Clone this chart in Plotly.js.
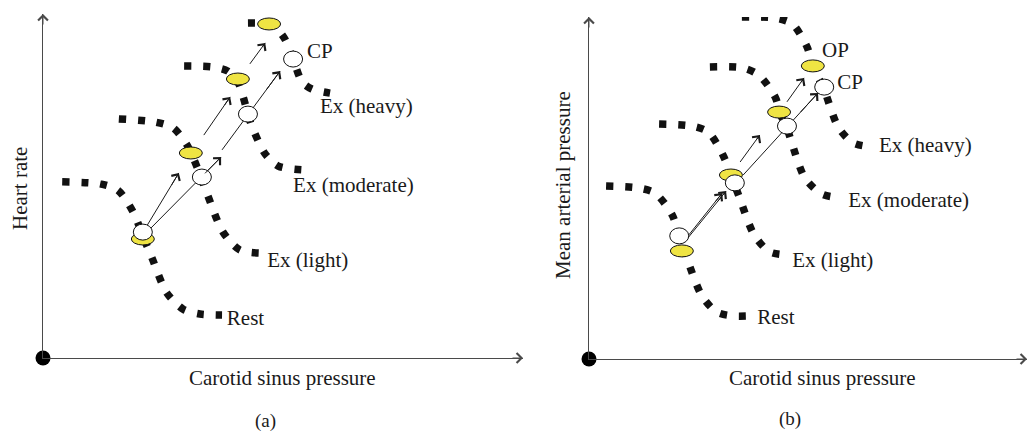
<!DOCTYPE html>
<html>
<head>
<meta charset="utf-8">
<script src="https://cdn.plot.ly/plotly-3.0.1.min.js"></script>
<style>html,body{margin:0;padding:0;background:#fff;}#chart{width:1027px;height:432px;}</style>
</head>
<body>
<div id="chart"></div>
<script>
// ---------- Panel (a): heart rate vs carotid sinus pressure (schematic units 0-100) ----------
const a_rest_x  = [4.0, 11.9, 15.6, 18.8, 20.8, 22.7, 25.8, 29.2, 32.7, 37.3];
const a_rest_y  = [51.2, 50.6, 48.8, 42.4, 35.5, 29.1, 18.9, 14.2, 12.8, 12.5];
const a_light_x = [15.8, 23.3, 27.1, 30.0, 32.1, 34.2, 37.5, 41.0, 45.6];
const a_light_y = [69.5, 68.6, 66.9, 61.9, 55.5, 47.7, 36.6, 31.4, 30.5];
const a_mod_x   = [29.4, 35.4, 38.5, 40.6, 41.7, 42.7, 43.5, 46.3, 49.0, 54.2];
const a_mod_y   = [84.9, 84.6, 83.4, 80.2, 75.9, 70.9, 67.4, 59.3, 55.8, 54.7];
const a_heavy_x = [42.7, 46.9, 48.8, 50.4, 52.1, 54.0, 56.0, 59.8];
const a_heavy_y = [97.4, 97.1, 95.6, 92.7, 86.9, 80.2, 78.2, 77.0];

const a_op_x = [20.8, 30.8, 40.6, 47.1];
const a_op_y = [34.6, 59.6, 81.1, 97.1];
const a_cp_x = [20.8, 33.1, 42.7, 52.1];
const a_cp_y = [36.6, 52.6, 70.9, 86.9];

const a_oparrow_x0 = [21.5, 33.5, 43.1];
const a_oparrow_y0 = [38.1, 64.8, 85.5];
const a_oparrow_x1 = [28.3, 39.0, 46.3];
const a_oparrow_y1 = [53.8, 75.9, 91.6];
const a_cparrow_x0 = [22.5, 37.3];
const a_cparrow_y0 = [37.8, 60.5];
const a_cparrow_x1 = [37.1, 49.4];
const a_cparrow_y1 = [58.4, 83.4];

const a_label_text = ['Rest', 'Ex (light)', 'Ex (moderate)', 'Ex (heavy)', 'CP'];
const a_label_x    = [38.3, 46.7, 52.1, 57.7, 55.0];
const a_label_y    = [11.1, 27.9, 49.7, 72.7, 88.7];

// ---------- Panel (b): mean arterial pressure vs carotid sinus pressure ----------
const b_rest_x  = [3.9, 11.4, 15.1, 19.0, 20.8, 22.4, 25.8, 29.2, 32.9, 36.8];
const b_rest_y  = [50.6, 50.0, 48.5, 42.1, 34.8, 29.2, 18.4, 13.7, 12.6, 12.6];
const b_light_x = [16.0, 23.5, 27.2, 30.6, 32.4, 34.3, 37.7, 41.3, 45.9];
const b_light_y = [68.7, 68.1, 66.4, 59.6, 53.8, 47.4, 36.3, 31.3, 30.4];
const b_mod_x   = [27.6, 35.2, 38.8, 42.5, 43.8, 45.2, 46.1, 49.3, 53.2, 57.5];
const b_mod_y   = [85.4, 85.1, 83.0, 76.6, 71.3, 67.5, 64.0, 52.9, 48.2, 47.1];
const b_heavy_x = [34.9, 42.5, 46.4, 49.8, 51.1, 53.7, 56.9, 60.3, 64.6];
const b_heavy_y = [100, 99.7, 98.0, 91.2, 85.7, 78.7, 67.8, 63.2, 62.0];

const b_op_x = [21.2, 32.4, 43.4, 51.1];
const b_op_y = [31.6, 53.8, 72.2, 85.7];
const b_cp_x = [20.6, 33.3, 45.2, 53.7];
const b_cp_y = [36.0, 51.5, 68.1, 79.5];

const b_oparrow_x0 = [22.8, 34.5, 45.2];
const b_oparrow_y0 = [36.3, 57.6, 75.2];
const b_oparrow_x1 = [30.4, 39.0, 49.1];
const b_oparrow_y1 = [48.5, 65.5, 82.2];
const b_cparrow_x0 = [22.2, 35.2];
const b_cparrow_y0 = [34.8, 53.8];
const b_cparrow_x1 = [31.3, 52.3];
const b_cparrow_y1 = [49.1, 77.8];

const b_label_text = ['Rest', 'Ex (light)', 'Ex (moderate)', 'Ex (heavy)', 'OP', 'CP'];
const b_label_x    = [38.4, 46.4, 59.2, 66.2, 53.2, 56.7];
const b_label_y    = [11.7, 28.4, 45.9, 62.0, 89.8, 80.4];

// ---------- styles ----------
const FONT = 'Liberation Serif, Times New Roman, serif';
const INK = '#1a1a1a';
const AXIS = '#4a4a4a';
const YELLOW = '#efe443';
const LABEL_SIZE = 21;

function curve(x, y, xa, ya) {
  return {x: x, y: y, xaxis: xa, yaxis: ya, mode: 'lines', type: 'scatter',
    line: {color: '#111', width: 7.5, dash: '7px,12px', shape: 'spline', smoothing: 0.8},
    cliponaxis: false, hoverinfo: 'skip', showlegend: false};
}
function shafts(x0, y0, x1, y1, xa, ya) {
  const xs = [], ys = [];
  for (let i = 0; i < x0.length; i++) { xs.push(x0[i], x1[i], null); ys.push(y0[i], y1[i], null); }
  return {x: xs, y: ys, xaxis: xa, yaxis: ya, mode: 'lines', type: 'scatter',
    line: {color: INK, width: 1}, hoverinfo: 'skip', showlegend: false, cliponaxis: false};
}
function heads(x0, y0, x1, y1, xa, ya) {
  const out = [];
  for (let i = 0; i < x0.length; i++) {
    out.push({x: x1[i], y: y1[i], xref: xa, yref: ya, axref: xa, ayref: ya,
      ax: x1[i] - 0.25 * (x1[i] - x0[i]), ay: y1[i] - 0.25 * (y1[i] - y0[i]),
      text: '', showarrow: true, arrowhead: 4, arrowsize: 1.9, arrowwidth: 1, arrowcolor: INK});
  }
  return out;
}
function labels(t, x, y, xa, ya) {
  return {x: x, y: y, text: t, xaxis: xa, yaxis: ya, mode: 'text', type: 'scatter',
    textposition: 'middle right', textfont: {family: FONT, size: LABEL_SIZE, color: INK},
    hoverinfo: 'skip', showlegend: false, cliponaxis: false};
}
function origin(xa, ya) {
  return {x: [0], y: [0], xaxis: xa, yaxis: ya, mode: 'markers', type: 'scatter',
    marker: {color: '#000', size: 15}, hoverinfo: 'skip', showlegend: false, cliponaxis: false};
}
function ellipses(cx, cy, rx, ry, fill, xa, ya) {
  return cx.map((c, i) => ({type: 'circle', xref: xa, yref: ya, xsizemode: 'pixel', ysizemode: 'pixel',
    xanchor: c, yanchor: cy[i], x0: -rx, x1: rx, y0: -ry, y1: ry,
    fillcolor: fill, line: {color: '#111', width: 1}, layer: 'above'}));
}

const data = [
  curve(a_rest_x, a_rest_y, 'x', 'y'), curve(a_light_x, a_light_y, 'x', 'y'),
  curve(a_mod_x, a_mod_y, 'x', 'y'), curve(a_heavy_x, a_heavy_y, 'x', 'y'),
  shafts(a_oparrow_x0, a_oparrow_y0, a_oparrow_x1, a_oparrow_y1, 'x', 'y'),
  shafts(a_cparrow_x0, a_cparrow_y0, a_cparrow_x1, a_cparrow_y1, 'x', 'y'),
  labels(a_label_text, a_label_x, a_label_y, 'x', 'y'),
  origin('x', 'y'),
  curve(b_rest_x, b_rest_y, 'x2', 'y2'), curve(b_light_x, b_light_y, 'x2', 'y2'),
  curve(b_mod_x, b_mod_y, 'x2', 'y2'), curve(b_heavy_x, b_heavy_y, 'x2', 'y2'),
  shafts(b_oparrow_x0, b_oparrow_y0, b_oparrow_x1, b_oparrow_y1, 'x2', 'y2'),
  shafts(b_cparrow_x0, b_cparrow_y0, b_cparrow_x1, b_cparrow_y1, 'x2', 'y2'),
  labels(b_label_text, b_label_x, b_label_y, 'x2', 'y2'),
  origin('x2', 'y2')
];

const shapes = [].concat(
  ellipses(a_op_x, a_op_y, 11.5, 6, YELLOW, 'x', 'y'),
  ellipses(a_cp_x, a_cp_y, 9.5, 8, '#ffffff', 'x', 'y'),
  ellipses(b_op_x, b_op_y, 11.5, 6, YELLOW, 'x2', 'y2'),
  ellipses(b_cp_x, b_cp_y, 9.5, 8, '#ffffff', 'x2', 'y2')
);

const W = 1027, H = 432;
function paperText(text, px, py, size, angle) {
  return {text: text, xref: 'paper', yref: 'paper', x: px / W, y: 1 - py / H,
    xanchor: 'center', yanchor: 'middle', showarrow: false, textangle: angle || 0,
    font: {family: FONT, size: size, color: INK}};
}
function axisHead(xa, ya, x, y, dx, dy) {
  return {x: x, y: y, xref: xa, yref: ya, ax: dx, ay: dy, text: '', showarrow: true,
    arrowhead: 4, arrowsize: 1.9, arrowwidth: 1, arrowcolor: AXIS};
}

const annotations = [].concat(
  heads(a_oparrow_x0, a_oparrow_y0, a_oparrow_x1, a_oparrow_y1, 'x', 'y'),
  heads(a_cparrow_x0, a_cparrow_y0, a_cparrow_x1, a_cparrow_y1, 'x', 'y'),
  heads(b_oparrow_x0, b_oparrow_y0, b_oparrow_x1, b_oparrow_y1, 'x2', 'y2'),
  heads(b_cparrow_x0, b_cparrow_y0, b_cparrow_x1, b_cparrow_y1, 'x2', 'y2'),
  [
    axisHead('x', 'y', 100, 0, -12, 0), axisHead('x', 'y', 0, 100, 0, 12),
    axisHead('x2', 'y2', 100, 0, -12, 0), axisHead('x2', 'y2', 0, 100, 0, 12),
    paperText('Carotid sinus pressure', 282, 378, LABEL_SIZE),
    paperText('Carotid sinus pressure', 822, 378, LABEL_SIZE),
    paperText('Heart rate', 20, 189, LABEL_SIZE, -90),
    paperText('Mean arterial pressure', 563, 185, LABEL_SIZE, -90),
    paperText('(a)', 265, 421, 19),
    paperText('(b)', 790, 419, 19)
  ]
);

function ax(domain) {
  return {domain: domain, range: [0, 100], showline: true, linecolor: AXIS, linewidth: 1.2,
    showgrid: false, zeroline: false, showticklabels: false, ticks: '', fixedrange: true};
}

const layout = {
  width: W, height: H, margin: {l: 0, r: 0, t: 0, b: 0},
  paper_bgcolor: '#ffffff', plot_bgcolor: 'rgba(0,0,0,0)',
  showlegend: false,
  xaxis: Object.assign(ax([43 / W, 523 / W]), {anchor: 'y'}),
  yaxis: Object.assign(ax([1 - 358 / H, 1 - 14 / H]), {anchor: 'x'}),
  xaxis2: Object.assign(ax([589 / W, 1]), {anchor: 'y2'}),
  yaxis2: Object.assign(ax([1 - 359 / H, 1 - 17 / H]), {anchor: 'x2'}),
  shapes: shapes,
  annotations: annotations
};

Plotly.newPlot('chart', data, layout, {staticPlot: true, displayModeBar: false});
</script>
</body>
</html>
